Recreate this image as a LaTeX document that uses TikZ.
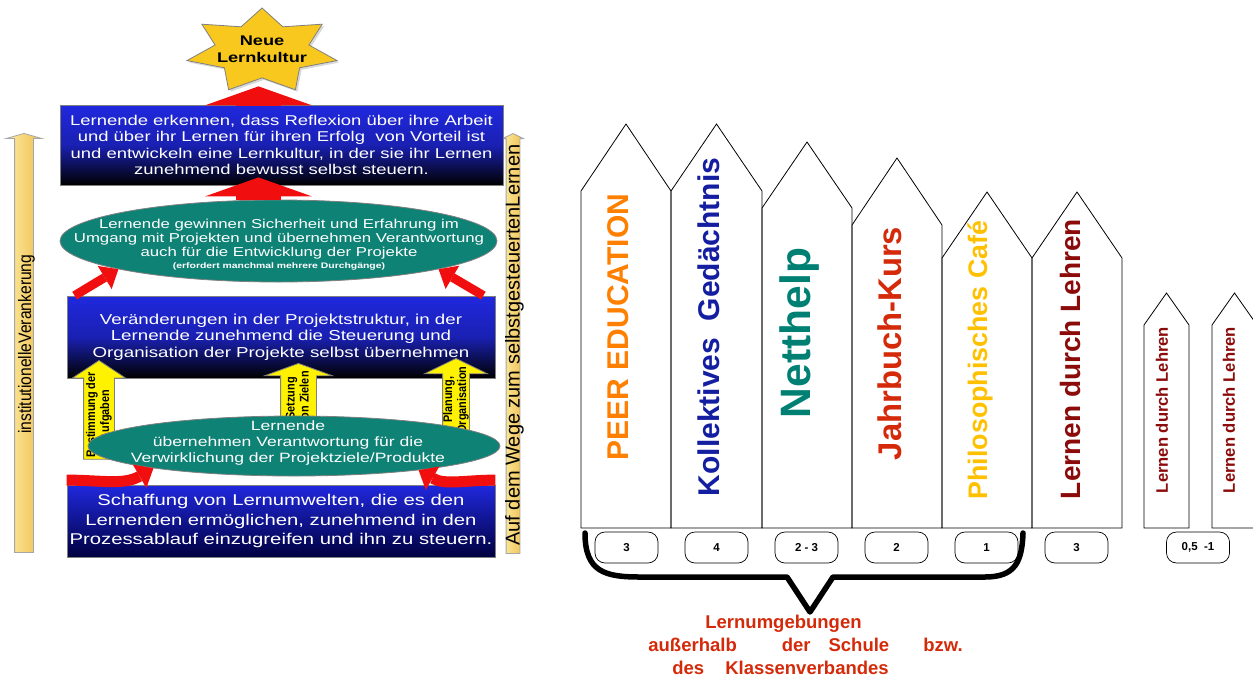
\documentclass[tikz,border=0pt]{standalone}
\usepackage{fontspec}
\setmainfont{Liberation Sans}
\newfontfamily\widefont[FakeStretch=1.3]{Liberation Sans}
\newfontfamily\narrowfont[FakeStretch=0.87]{Liberation Sans}
\usepackage{xcolor}
\usetikzlibrary{arrows.meta,shapes.geometric,shapes.arrows,shadows}

\definecolor{boxblue}{RGB}{32,40,222}
\definecolor{tealgreen}{RGB}{15,130,118}
\definecolor{stargold}{RGB}{248,200,30}
\definecolor{arrowred}{RGB}{240,14,14}
\definecolor{sidelight}{RGB}{252,236,160}
\definecolor{sidedark}{RGB}{240,190,80}
\definecolor{peerorange}{RGB}{255,128,0}
\definecolor{memoryblue}{RGB}{20,30,160}
\definecolor{nettteal}{RGB}{0,128,115}
\definecolor{yearred}{RGB}{212,42,10}
\definecolor{cafegold}{RGB}{255,192,0}
\definecolor{teachred}{RGB}{139,10,10}

\begin{document}
\begin{tikzpicture}[x=1pt,y=1pt,line width=0.8pt,
  levelbox/.style={draw=gray,top color=boxblue,bottom color=black,middle color=boxblue!80!black,text=white,align=center,inner sep=0pt},
  levelellipse/.style={ellipse,draw=gray,fill=tealgreen,inner sep=0pt},
  leveltext/.style={text=white,align=center,inner sep=0pt},
  bigarrow/.style={draw=arrowred,line width=45pt,-{Triangle[width=107pt,length=19pt,line width=0pt]}},
  curvearrow/.style={draw=arrowred,line width=9pt,-{Triangle[width=27pt,length=16pt,line width=0pt]}},
  yellowarrow/.style={single arrow,draw=gray,fill=yellow,rotate=90,align=center,font=\narrowfont\bfseries\fontsize{12.5}{14}\selectfont,text height=23pt,text depth=3pt,inner xsep=1pt},
  sidearrow/.style={single arrow,draw=gray!70,left color=sidelight,right color=sidedark,rotate=90,inner sep=0pt},
  pill/.style={draw,rounded corners=10pt,minimum width=63pt,minimum height=31pt,inner sep=0pt,line width=0.7pt,font=\bfseries\fontsize{11.5}{11.5}\selectfont}]

\useasboundingbox (0,0) rectangle (1253,-681);

% left: side bars
\node[sidearrow,minimum height=419pt,text height=16pt,text depth=2pt,single arrow head extend=8.5pt,single arrow tip angle=148,font=\narrowfont\fontsize{18}{18}\selectfont,anchor=tip] (BarLeft) at (24,-133) {institutionelleVerankerung};
\node[sidearrow,minimum height=420pt,text height=13pt,text depth=0pt,single arrow head extend=3.5pt,single arrow tip angle=127,font=\fontsize{20}{20}\selectfont,anchor=tip] (BarRight) at (513,-133) {Auf dem Wege zum selbstgesteuertenLernen};

% left: levels
\node[star,star points=7,star point ratio=1.6,minimum size=86pt,inner sep=0pt,xscale=1.79,draw=gray,fill=stargold,drop shadow={shadow xshift=2pt,shadow yshift=-2pt,fill=gray!60}] (Star) at (262,-51) {};
\node[font=\widefont\bfseries\fontsize{14}{17}\selectfont,align=center,inner sep=0pt] (StarText) at (262,-49) {Neue\\Lernkultur};

\node[levelbox,minimum width=443pt,minimum height=80pt,font=\widefont\fontsize{14.2}{16.5}\selectfont] (LevelE1) at (281.5,-145) {Lernende erkennen, dass Reflexion über ihre Arbeit\\und über ihr Lernen für ihren Erfolg\ \ von Vorteil ist\\und entwickeln eine Lernkultur, in der sie ihr Lernen\\zunehmend bewusst selbst steuern.};
\draw[bigarrow] ([xshift=-23pt]LevelE1.north) -- ([xshift=-3.5pt,yshift=-8pt]Star.south);

\node[levelellipse,minimum width=437pt,minimum height=82pt] (LevelD1) at (278.5,-241) {};
\node[leveltext,font=\widefont\fontsize{12.9}{14}\selectfont] (TextD1) at (279,-245) {Lernende gewinnen Sicherheit und Erfahrung im\\Umgang mit Projekten und übernehmen Verantwortung\\auch für die Entwicklung der Projekte\\[-2pt]{\bfseries\fontsize{8}{9}\selectfont (erfordert manchmal mehrere Durchgänge)}};
\draw[bigarrow] ([xshift=-20pt]LevelD1.north) -- ([xshift=-23pt,yshift=8pt]LevelE1.south);

\node[levelbox,minimum width=428pt,minimum height=82pt,font=\widefont\fontsize{14.4}{16.7}\selectfont] (LevelC1) at (281,-337) {Veränderungen in der Projektstruktur, in der\\Lernende zunehmend die Steuerung und\\Organisation der Projekte selbst übernehmen};
\draw[curvearrow] ([xshift=8pt]LevelC1.north west) -- (LevelD1.190);
\draw[curvearrow] ([xshift=-12pt]LevelC1.north east) -- (LevelD1.-10);

\node[yellowarrow,minimum height=86pt,inner ysep=2pt,single arrow head extend=11pt,single arrow tip angle=113,anchor=tip] (TaskArrow) at (99,-360) {Bestimmung der\\Aufgaben};
\node[yellowarrow,minimum height=62pt,inner ysep=4.5pt,single arrow head extend=16pt,single arrow tip angle=140,anchor=tip] (GoalArrow) at (298.5,-363) {Setzung\\von Zielen};
\node[yellowarrow,minimum height=72pt,inner ysep=0pt,single arrow head extend=18pt,single arrow tip angle=128,anchor=tip] (PlanArrow) at (456,-358) {Planung,\\Organisation};

\node[levelellipse,minimum width=412pt,minimum height=60pt] (LevelB1) at (294,-446) {};
\node[leveltext,font=\widefont\fontsize{13.5}{16}\selectfont] (TextB1) at (288,-443) {Lernende\\übernehmen Verantwortung für die\\Verwirklichung der Projektziele/Produkte};

\node[levelbox,minimum width=428pt,minimum height=72pt,bottom color=black!75!blue,font=\widefont\fontsize{15.6}{19.5}\selectfont] (LevelA1) at (281,-521) {Schaffung von Lernumwelten, die es den\\Lernenden ermöglichen, zunehmend in den\\Prozessablauf einzugreifen und ihn zu steuern.};
\draw[curvearrow,line width=11pt] ([yshift=4.5pt]LevelA1.north west) to[out=0,in=210] (LevelB1.189);
\draw[curvearrow,line width=11pt] ([yshift=4.5pt]LevelA1.north east) to[out=180,in=-30] (LevelB1.-11);

% right: houses
\draw (581,-528) -- (581,-191) -- (626,-124) -- (671,-191) -- (671,-528) -- cycle;
\draw (671,-528) -- (671,-191) -- (716.5,-124) -- (762,-191) -- (762,-528) -- cycle;
\draw (762,-528) -- (762,-208) -- (807,-142) -- (852,-208) -- (852,-528) -- cycle;
\draw (852,-528) -- (852,-225) -- (897,-158) -- (942,-225) -- (942,-528) -- cycle;
\draw (942,-528) -- (942,-258) -- (987,-192) -- (1032,-258) -- (1032,-528) -- cycle;
\draw (1032,-528) -- (1032,-258) -- (1077,-192) -- (1122,-258) -- (1122,-528) -- cycle;
\draw (1144,-528) -- (1144,-325) -- (1166.5,-293) -- (1189,-325) -- (1189,-528) -- cycle;
\draw (1212,-528) -- (1212,-325) -- (1234.5,-293) -- (1257,-325) -- (1257,-528) -- cycle;

\node[rotate=90,inner sep=0pt,text=peerorange,font=\bfseries\fontsize{30}{30}\selectfont] (HouseA) at (618,-327) {PEER EDUCATION};
\node[rotate=90,inner sep=0pt,text=memoryblue,font=\bfseries\fontsize{30}{30}\selectfont] (HouseB) at (709,-327) {Kollektives\ \ Gedächtnis};
\node[rotate=90,inner sep=0pt,text=nettteal,font=\bfseries\fontsize{42.5}{42.5}\selectfont] (HouseC) at (800,-333) {Netthelp};
\node[rotate=90,inner sep=0pt,text=yearred,font=\bfseries\fontsize{32.8}{32.8}\selectfont] (HouseD) at (890,-343.5) {Jahrbuch-Kurs};
\node[rotate=90,inner sep=0pt,text=cafegold,font=\bfseries\fontsize{26.8}{26.8}\selectfont] (HouseE) at (980,-360) {Philosophisches Café};
\node[rotate=90,inner sep=0pt,text=teachred,font=\bfseries\fontsize{28}{28}\selectfont] (HouseF) at (1070,-359) {Lernen durch Lehren};
\node[rotate=90,inner sep=0pt,text=teachred,font=\bfseries\fontsize{16.6}{16.6}\selectfont] (HouseG) at (1162,-410) {Lernen durch Lehren};
\node[rotate=90,inner sep=0pt,text=teachred,font=\bfseries\fontsize{16.6}{16.6}\selectfont] (HouseH) at (1229,-410) {Lernen durch Lehren};

% right: numbers
\node[pill] (CountA) at (626.5,-547.5) {3};
\node[pill] (CountB) at (716.5,-547.5) {4};
\node[pill] (CountC) at (806.5,-547.5) {2 - 3};
\node[pill] (CountD) at (896.5,-547.5) {2};
\node[pill] (CountE) at (986.5,-547.5) {1};
\node[pill] (CountF) at (1076.5,-547.5) {3};
\node[pill] (CountG) at (1198,-547.5) {0,5\ \ -1};

\draw[line width=5.5pt,line cap=round,line join=round] (585,-533) .. controls (585,-572) and (605,-577) .. (640,-577) -- (787,-577) -- (810,-612) -- (833,-577) -- (985,-577) .. controls (1015,-577) and (1022,-562) .. (1023,-533);

\node[anchor=north west,align=left,inner sep=0pt,text=yearred,font=\bfseries\fontsize{18.5}{23}\selectfont] (GroupLabel) at (648,-615) {\hspace*{57pt}Lernumgebungen\\außerhalb\hspace*{45pt}der\hspace*{18pt}Schule\hspace*{34pt}bzw.\\\hspace*{24pt}des\hspace*{21pt}Klassenverbandes};

\end{tikzpicture}
\end{document}
